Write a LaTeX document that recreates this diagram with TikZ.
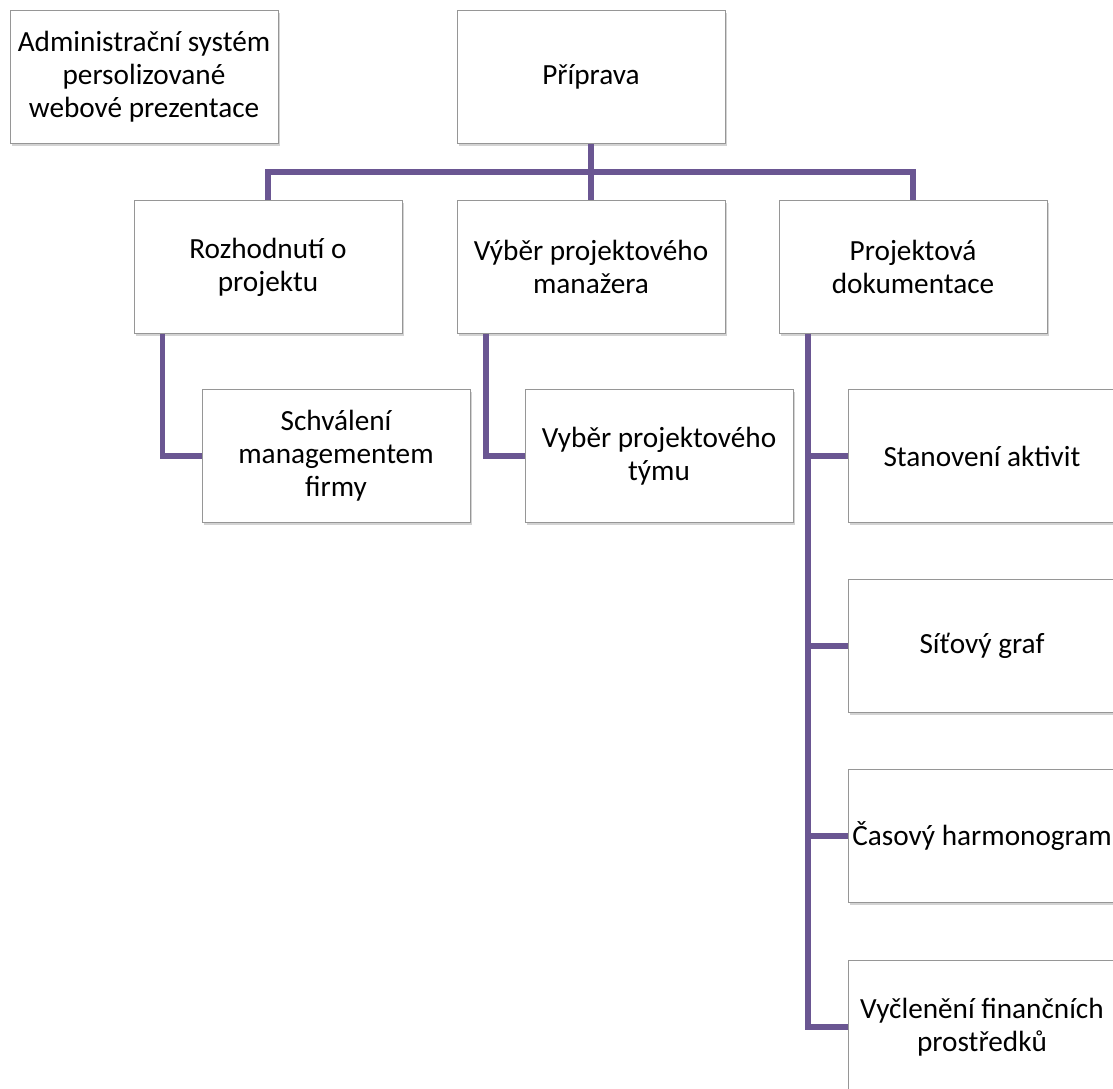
\documentclass[tikz,border=0pt]{standalone}
\usepackage{fontspec}
\setmainfont{Carlito}
\usepackage{tikz}
\usetikzlibrary{positioning, shadows}

\definecolor{linkpurple}{RGB}{106,86,146}
\definecolor{boxgray}{RGB}{150,150,150}

\begin{document}
\begin{tikzpicture}[
    x=0.025cm, y=-0.025cm,
    box/.style={draw=boxgray, line width=0.6pt, fill=white, align=center,
      minimum width=6.7cm, minimum height=3.325cm, inner sep=2pt,
      drop shadow={opacity=0.35, shadow xshift=1.6pt, shadow yshift=-1.8pt}},
    link/.style={draw=linkpurple, line width=4.2pt},
    font=\fontsize{20.8}{23.4}\selectfont
  ]
    \useasboundingbox (0,0) rectangle (1113,1088);
    \clip (0,0) rectangle (1113,1088);
    % title and root
    \node[box] (title) at (144,77) {Administrační systém\\persolizované\\webové prezentace};
    \node[box] (prep) at (591,77) {Příprava};
    % second level
    \node[box] (decide) at (268,267) {Rozhodnutí o\\projektu};
    \node[box] (mgr) at (591,267) {Výběr projektového\\manažera};
    \node[box] (docs) at (913,267) {Projektová\\dokumentace};
    % third level
    \node[box] (approve) at (336,456) {Schválení\\managementem\\firmy};
    \node[box] (team) at (659,456) {Vyběr projektového\\týmu};
    \node[box] (acts) at (982,456) {Stanovení aktivit};
    \node[box] (net) at (982,646) {Síťový graf};
    \node[box] (sched) at (982,836) {Časový harmonogram};
    \node[box] (funds) at (982,1027) {Vyčlenění finančních\\prostředků};

    \draw[link] (prep.south) -- (mgr.north);
    \draw[link] (decide.north) -- ++(0,-28) -| (docs.north);
    \draw[link] (decide.south west) ++(29,0) |- (approve.west);
    \draw[link] (mgr.south west) ++(29,0) |- (team.west);
    \foreach \kid in {acts, net, sched, funds}
      \draw[link] (docs.south west) ++(29,0) |- (\kid.west);
  \end{tikzpicture}
\end{document}
